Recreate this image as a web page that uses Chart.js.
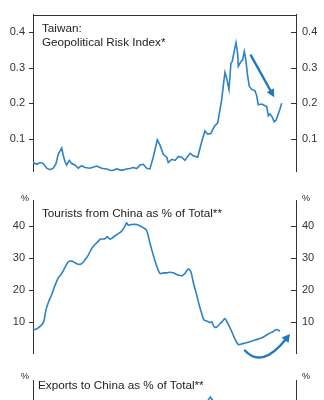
<!DOCTYPE html>
<html><head><meta charset="utf-8">
<script src="https://cdn.jsdelivr.net/npm/chart.js@4"></script>
<style>
html,body{margin:0;padding:0;background:#fff;overflow:hidden;width:324px;height:400px}
canvas{position:absolute;left:0}
</style></head><body>
<canvas id="c1" width="324" height="186" style="top:0"></canvas>
<canvas id="c2" width="324" height="182" style="top:186px"></canvas>
<canvas id="c3" width="324" height="240" style="top:366px"></canvas>
<script>
// ---- data ----
const geoDates = [2008.0,2008.25,2008.47,2008.69,2008.91,2009.13,2009.35,2009.53,2009.68,2009.91,2010.02,2010.13,2010.24,2010.42,2010.57,2010.79,2011.01,2011.24,2011.46,2011.79,2012.24,2012.57,2012.90,2013.24,2013.57,2013.90,2014.23,2014.45,2014.67,2014.90,2015.12,2015.34,2015.56,2015.78,2016.00,2016.27,2016.45,2016.67,2016.90,2017.00,2017.23,2017.45,2017.67,2017.89,2018.11,2018.45,2018.67,2018.96,2019.22,2019.44,2019.62,2019.84,2020.06,2020.29,2020.55,2020.77,2020.89,2021.04,2021.17,2021.26,2021.39,2021.51,2021.62,2021.66,2021.84,2021.95,2022.06,2022.15,2022.28,2022.39,2022.55,2022.77,2022.88,2022.99,2023.22,2023.44,2023.55,2023.66,2023.77,2023.92,2024.05,2024.17,2024.28,2024.43,2024.55];
const geoValues = [0.033,0.028,0.033,0.030,0.017,0.013,0.017,0.030,0.056,0.074,0.052,0.035,0.026,0.039,0.030,0.026,0.017,0.024,0.019,0.017,0.023,0.017,0.015,0.010,0.015,0.011,0.015,0.016,0.019,0.016,0.026,0.028,0.017,0.015,0.048,0.097,0.082,0.056,0.048,0.033,0.042,0.039,0.050,0.048,0.039,0.059,0.052,0.048,0.091,0.122,0.113,0.115,0.135,0.145,0.209,0.287,0.270,0.239,0.313,0.318,0.348,0.371,0.339,0.304,0.318,0.322,0.346,0.326,0.278,0.248,0.239,0.235,0.222,0.196,0.198,0.193,0.191,0.165,0.170,0.161,0.148,0.152,0.165,0.183,0.200];

const tourDates = [2008.0,2008.13,2008.35,2008.58,2008.73,2008.86,2009.02,2009.24,2009.46,2009.68,2009.91,2010.13,2010.35,2010.57,2010.79,2011.01,2011.24,2011.46,2011.68,2011.91,2012.13,2012.34,2012.50,2012.79,2012.94,2013.12,2013.34,2013.61,2013.90,2014.12,2014.23,2014.34,2014.57,2014.90,2015.12,2015.34,2015.56,2015.78,2016.00,2016.23,2016.45,2016.67,2016.90,2017.12,2017.34,2017.67,2017.93,2018.11,2018.33,2018.51,2018.67,2018.89,2019.04,2019.22,2019.38,2019.56,2019.78,2019.89,2020.06,2020.22,2020.44,2020.66,2020.77,2020.99,2021.22,2021.44,2021.66,2021.89,2022.32,2022.77,2023.22,2023.66,2023.99,2024.21,2024.43];
const tourValues = [7.5,7.5,8.0,9.0,10.2,13.6,16.0,18.4,21.3,23.7,25.1,27.0,28.8,29.0,28.5,28.0,28.2,29.4,30.9,33.0,34.2,35.2,35.9,36.0,36.6,35.9,36.5,37.4,38.4,40.0,41.0,40.3,40.5,40.5,40.0,39.5,38.6,34.7,30.9,27.5,25.1,25.3,25.3,25.5,25.3,24.6,24.4,25.1,26.5,25.6,22.2,18.4,15.5,12.6,10.5,10.2,9.7,9.9,8.3,8.3,9.3,10.4,10.9,9.2,6.9,4.5,2.8,3.0,3.5,4.2,4.9,6.1,6.9,7.5,7.0];

const expDates = [2008.0,2008.6,2009.2,2010.0,2011.0,2012.0,2013.0,2014.0,2015.0,2016.0,2017.0,2018.0,2018.8,2019.3,2019.6,2019.8,2020.0,2020.4,2021.0,2021.6,2022.3,2023.0,2023.8,2024.5];
const expValues = [39.5,37.0,38.5,41.5,40.5,39.5,39.8,39.8,39.0,40.0,41.0,41.2,41.5,42.0,44.0,44.5,44.0,42.5,42.8,42.0,39.0,35.5,33.0,31.5];

const geoTicks = [0.1,0.2,0.3,0.4];
const tourTicks = [10,20,30,40];
const expTicks = [30,40];

const geoTitle = ['Taiwan:','Geopolitical Risk Index*'];
const tourTitle = ['Tourists from China as % of Total**'];
const expTitle = ['Exports to China as % of Total**'];

// annotation arrows, in data units (year, value)
const geoArrow = [[2022.50,0.335],[2024.05,0.217]];
const tourArrow = [[2022.10,0.9],[2023.24,-4.9],[2025.10,6.1]];

// ---- drawing ----
const FONT = '"Liberation Sans", Arial, sans-serif';
const LINE = '#2b82c6';
const ARROW = '#1f78c0';
const AXIS = '#333';

function arrowHead(ctx, x1, y1, x2, y2, len, wid) {
  const ang = Math.atan2(y2 - y1, x2 - x1);
  ctx.beginPath();
  ctx.moveTo(x2, y2);
  ctx.lineTo(x2 - len*Math.cos(ang) + wid*Math.sin(ang), y2 - len*Math.sin(ang) - wid*Math.cos(ang));
  ctx.lineTo(x2 - len*Math.cos(ang) - wid*Math.sin(ang), y2 - len*Math.sin(ang) + wid*Math.cos(ang));
  ctx.closePath();
  ctx.fill();
}

const deco = {
  id: 'deco',
  afterDatasetsDraw(chart, args, o) {
    const {ctx, chartArea: a, scales} = chart;
    const sx = scales.x, sy = scales.yL;
    ctx.save();
    ctx.strokeStyle = AXIS; ctx.lineWidth = 1;
    sy.ticks.forEach(t => {
      const y = Math.round(sy.getPixelForValue(t.value)) + 0.5;
      ctx.beginPath(); ctx.moveTo(a.left - 4, y); ctx.lineTo(a.left, y); ctx.stroke();
      ctx.beginPath(); ctx.moveTo(a.right - 5, y); ctx.lineTo(a.right, y); ctx.stroke();
    });
    if (o.box) {
      const y = Math.round(a.top) + 0.5;
      ctx.beginPath(); ctx.moveTo(a.left, y); ctx.lineTo(a.right + 1, y); ctx.stroke();
    }
    ctx.fillStyle = '#222';
    ctx.font = '11.7px ' + FONT;
    ctx.textAlign = 'left'; ctx.textBaseline = 'alphabetic';
    o.title.forEach((s, i) => ctx.fillText(s, a.left + o.tx, a.top + o.ty + i * 14.5));
    if (o.unit) {
      ctx.font = '9px ' + FONT; ctx.textBaseline = 'middle';
      ctx.textAlign = 'right'; ctx.fillText('%', a.left - 4, a.top + o.uy);
      ctx.textAlign = 'left'; ctx.fillText('%', a.right + 6, a.top + o.uy);
    }
    ctx.strokeStyle = ARROW; ctx.fillStyle = ARROW; ctx.lineWidth = 2.4; ctx.lineCap = 'round';
    if (o.arrow) {
      const p = o.arrow.map(q => [sx.getPixelForValue(q[0]), sy.getPixelForValue(q[1])]);
      const [x1,y1] = p[0], [x2,y2] = p[1];
      const ang = Math.atan2(y2-y1, x2-x1);
      ctx.beginPath(); ctx.moveTo(x1,y1); ctx.lineTo(x2 - 6*Math.cos(ang), y2 - 6*Math.sin(ang)); ctx.stroke();
      arrowHead(ctx, x1, y1, x2, y2, 8, 4);
    }
    if (o.curve) {
      const p = o.curve.map(q => [sx.getPixelForValue(q[0]), sy.getPixelForValue(q[1])]);
      const [x0,y0] = p[0], [cx,cy] = p[1], [x2,y2] = p[2];
      const ang = Math.atan2(y2-cy, x2-cx);
      ctx.beginPath(); ctx.moveTo(x0,y0);
      ctx.quadraticCurveTo(cx, cy, x2 - 6*Math.cos(ang), y2 - 6*Math.sin(ang)); ctx.stroke();
      arrowHead(ctx, cx, cy, x2, y2, 8, 4.5);
    }
    ctx.restore();
  }
};

function yAxis(pos, min, max, ticks, fmt) {
  return {
    type: 'linear', position: pos, min, max,
    afterFit: s => { s.width = pos === 'left' ? 33 : 28; },
    afterBuildTicks: s => { s.ticks = ticks.map(v => ({value: v})); },
    grid: {display: false, drawTicks: false},
    border: {display: true, color: AXIS, width: 1},
    ticks: {padding: pos === 'left' ? 8 : 6, color: '#333', font: {family: FONT, size: 11},
            callback: v => fmt(v)}
  };
}

function panel(id, dates, values, min, max, ticks, fmt, pad, deco_opts, tension) {
  new Chart(document.getElementById(id), {
    type: 'line',
    data: {datasets: [{data: dates.map((d, i) => ({x: d, y: values[i]})),
      xAxisID: 'x', yAxisID: 'yL',
      borderColor: LINE, borderWidth: 1.6, pointRadius: 0, tension: tension, fill: false}]},
    options: {
      responsive: false, animation: false, events: [],
      layout: {padding: pad},
      plugins: {legend: {display: false}, tooltip: {enabled: false}, deco: deco_opts},
      scales: {
        x: {type: 'linear', display: false, min: 2008, max: 2025.5},
        yL: yAxis('left', min, max, ticks, fmt),
        yR: yAxis('right', min, max, ticks, fmt)
      }
    },
    plugins: [deco]
  });
}

panel('c1', geoDates, geoValues, 0.008, 0.45, geoTicks, v => v.toFixed(1),
      {top: 11, bottom: 6, left: 0, right: 0},
      {box: true, title: geoTitle, tx: 9, ty: 17, arrow: geoArrow}, 0);
panel('c2', tourDates, tourValues, 0, 48, tourTicks, v => String(v),
      {top: 11, bottom: 5, left: 0, right: 0},
      {title: tourTitle, tx: 9, ty: 16, unit: true, uy: -2, curve: tourArrow}, 0.3);
panel('c3', expDates, expValues, 21, 46.5, expTicks, v => String(v),
      {top: 14, bottom: 10, left: 0, right: 0},
      {title: expTitle, tx: 5, ty: 8, unit: true, uy: -4}, 0);
</script>
</body></html>
